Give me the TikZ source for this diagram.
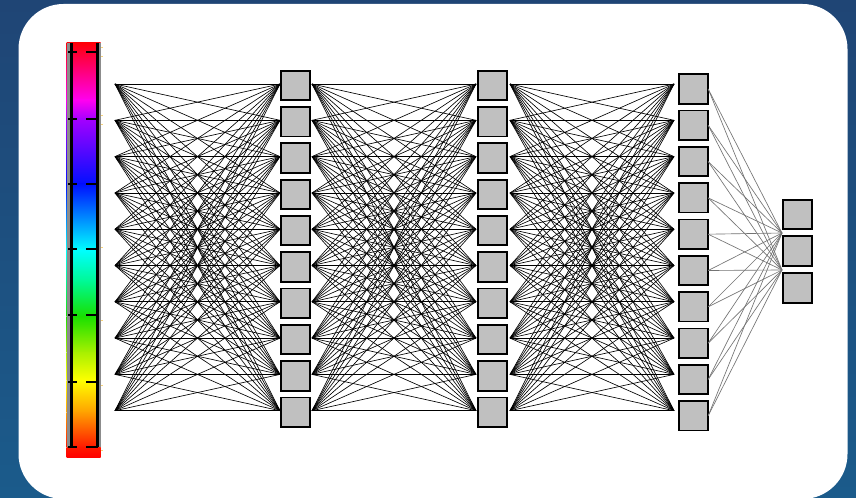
\documentclass[tikz,border=0pt]{standalone}
\begin{document}
\definecolor{bgA}{HTML}{1F4575}
\definecolor{bgB}{HTML}{1B5B8B}
\definecolor{boxgray}{HTML}{C0C0C0}
\definecolor{tickyel}{HTML}{F6D27A}
\definecolor{s0}{HTML}{FF0008}
\definecolor{s1}{HTML}{FF0030}
\definecolor{s2}{HTML}{FF00F0}
\definecolor{s3}{HTML}{A400FF}
\definecolor{s4}{HTML}{0010FF}
\definecolor{s5}{HTML}{00FFFF}
\definecolor{s6}{HTML}{00F890}
\definecolor{s7}{HTML}{18E000}
\definecolor{s8}{HTML}{A8F000}
\definecolor{s9}{HTML}{FFFF00}
\definecolor{s10}{HTML}{FFA000}
\definecolor{s11}{HTML}{FF1800}
\definecolor{s12}{HTML}{FF0000}
\begin{tikzpicture}[x=1bp,y=-1bp,
  conn/.style={black,line width=0.65bp},
  outconn/.style={black!55,line width=0.65bp},
  unit/.style={draw=black,line width=1.8bp,fill=boxgray,minimum width=29.4bp,minimum height=29.4bp,inner sep=0pt,outer sep=0pt},
  barhalo/.style={black!45,line width=3bp},
  baredge/.style={black,line width=2.8bp},
  bartick/.style={black,line width=1.5bp},
  labtick/.style={tickyel,line width=1bp}]
\useasboundingbox (0,0) rectangle (856,498);
% background and card
\shade[top color=bgA,bottom color=bgB] (0,0) rectangle (856,498);
\fill[white,rounded corners=45bp] (18.5,4) rectangle (847.5,499);
% colour bar
\foreach \ya/\yb/\ca/\cb in {43/52/s0/s1,52/100/s1/s2,100/119/s2/s3,119/184/s3/s4,184/250/s4/s5,250/282/s5/s6,282/316/s6/s7,316/352/s7/s8,352/380/s8/s9,380/412/s9/s10,412/447/s10/s11,447/457/s11/s12}
  \shade[top color=\ca,bottom color=\cb] (66.7,\ya) rectangle (100.5,\yb+0.6);
\draw[barhalo] (68.2,43) -- (68.2,447);
\draw[barhalo] (99.6,43) -- (99.6,447);
\draw[baredge] (71.2,43) -- (71.2,447);
\draw[baredge] (97.3,43) -- (97.3,447);
\foreach \t in {52,119,184,249,315,382,447} {
  \draw[bartick] (68,\t) -- (77,\t);
  \draw[bartick] (86,\t) -- (97.5,\t);
}
\foreach \t in {48,57,116,125,248,320,385,450}
  \draw[labtick] (100.8,\t) -- (103.2,\t);
% units
\foreach \i in {0,...,9} {
  \pgfmathsetmacro{\y}{84+36.3*\i}
  \coordinate (a\i) at (115,\y);
  \coordinate (bl\i) at (280,\y);
  \coordinate (br\i) at (312,\y);
  \coordinate (cl\i) at (476,\y);
  \coordinate (cr\i) at (510,\y);
  \coordinate (dl\i) at (674,\y);
}
\foreach \i in {0,...,9} {
  \foreach \j in {0,...,9} {
    \draw[conn] (a\i) -- (bl\j);
    \draw[conn] (br\i) -- (cl\j);
    \draw[conn] (cr\i) -- (dl\j);
  }
}
\foreach \i in {0,...,9} {
  \pgfmathsetmacro{\y}{84+36.3*\i}
  \node[unit] (b\i) at (295.5,\y+1.5) {};
  \node[unit] (c\i) at (492.5,\y+1.5) {};
  \node[unit] (d\i) at (693.5,\y+5) {};
}
\coordinate (e1) at (782,233);
\coordinate (e2) at (782,270);
\foreach \i in {0,...,9} {
  \draw[outconn] (d\i.east) -- (e1);
  \draw[outconn] (d\i.east) -- (e2);
}
\node[unit] (o1) at (797.5,214.5) {};
\node[unit] (o2) at (797.5,251) {};
\node[unit] (o3) at (797.5,288) {};
\end{tikzpicture}
\end{document}
